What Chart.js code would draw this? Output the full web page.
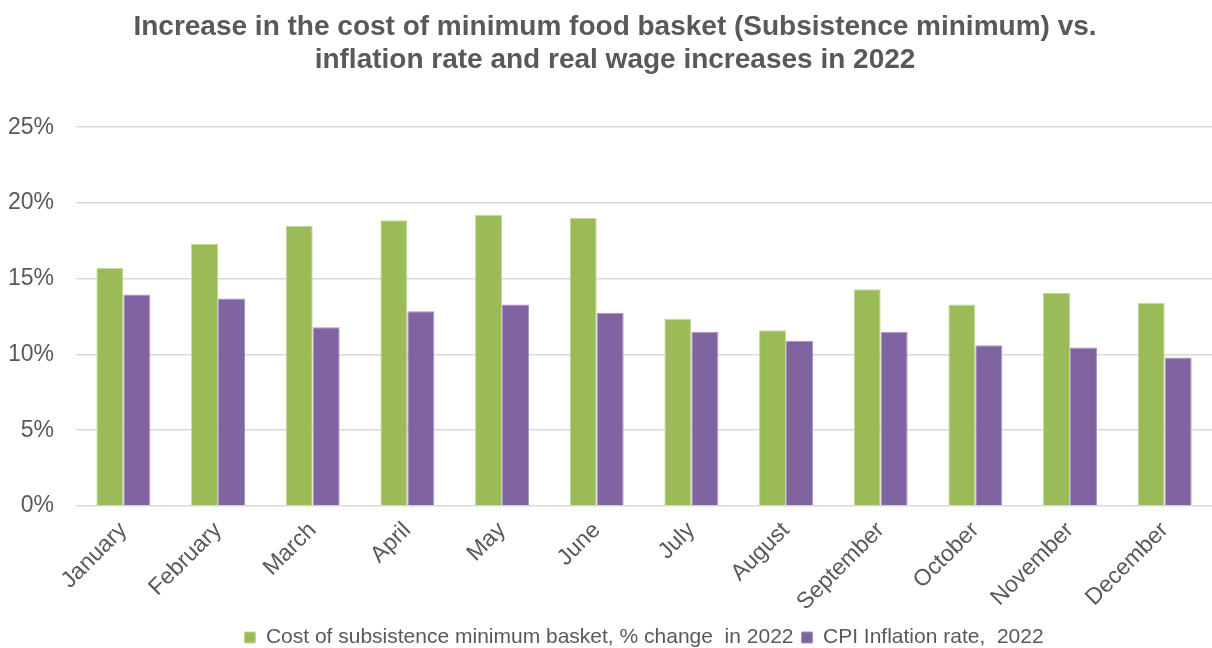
<!DOCTYPE html>
<html>
<head>
<meta charset="utf-8">
<script src="https://cdn.jsdelivr.net/npm/chart.js@4/dist/chart.umd.min.js"></script>
<style>
  html, body { margin: 0; padding: 0; background: #ffffff; }
  #wrap { width: 1212px; height: 648px; position: relative; }
</style>
</head>
<body>
<div id="wrap"><canvas id="chart"></canvas></div>
<script>
const months = ['January', 'February', 'March', 'April', 'May', 'June',
    'July', 'August', 'September', 'October', 'November', 'December'];
const basketChange = [15.7, 17.3, 18.5, 18.85, 19.2, 19.0, 12.35, 11.6, 14.3, 13.3, 14.05, 13.4];
const cpiInflation = [13.95, 13.7, 11.8, 12.85, 13.3, 12.75, 11.5, 10.9, 11.5, 10.6, 10.45, 9.8];
const yTicks = [0, 5, 10, 15, 20, 25];

const grey = '#595959';
const fontFamily = 'Arial, "Liberation Sans", sans-serif';

// legend sits centred under the plot area, title centred on the page
const recentre = {
    id: 'recentre',
    afterLayout(chart) {
        const area = chart.chartArea;
        if (chart.legend) {
            chart.legend.left = area.left;
            chart.legend.right = area.right;
        }
        if (chart.titleBlock) {
            chart.titleBlock.left = 18;
            chart.titleBlock.right = chart.width;
        }
    }
};

const ctx = document.getElementById('chart');
const chart = new Chart(ctx, {
    type: 'bar',
    data: {
        labels: months,
        datasets: [{
            label: 'Cost of subsistence minimum basket, % change  in 2022',
            data: basketChange,
            backgroundColor: '#9BBB59',
            borderColor: '#c4d99a',
            borderWidth: 1
        }, {
            label: 'CPI Inflation rate,  2022',
            data: cpiInflation,
            backgroundColor: '#8064A2',
            borderColor: '#a892c2',
            borderWidth: 1
        }]
    },
    plugins: [recentre],
    options: {
        responsive: true,
        maintainAspectRatio: false,
        animation: false,
        datasets: {
            bar: {
                barPercentage: 1,
                categoryPercentage: 0.57
            }
        },
        layout: {
            padding: { left: -14, right: 0, top: 0, bottom: -10 }
        },
        scales: {
            x: {
                grid: { display: false },
                border: { display: false },
                afterFit: scale => {
                    scale.paddingLeft = 0;
                    scale.paddingRight = 0;
                },
                ticks: {
                    color: grey,
                    font: { family: fontFamily, size: 23 },
                    maxRotation: 45,
                    minRotation: 45,
                    padding: 3
                }
            },
            y: {
                min: 0,
                max: 25,
                afterBuildTicks: axis => {
                    axis.ticks = yTicks.map(v => ({ value: v }));
                },
                grid: { color: '#d9d9d9', lineWidth: 1.5, drawTicks: false },
                border: { display: false },
                ticks: {
                    color: grey,
                    font: { family: fontFamily, size: 23 },
                    padding: 22,
                    callback: v => v + '%'
                }
            }
        },
        plugins: {
            title: {
                display: true,
                text: ['Increase in the cost of minimum food basket (Subsistence minimum) vs.',
                    'inflation rate and real wage increases in 2022'],
                color: grey,
                font: { family: fontFamily, size: 28, weight: 'bold' },
                lineHeight: 1.0,
                padding: { top: 10, bottom: 50 }
            },
            legend: {
                position: 'bottom',
                labels: {
                    color: grey,
                    font: { family: fontFamily, size: 21 },
                    boxWidth: 11,
                    boxHeight: 11,
                    padding: 8
                }
            },
            tooltip: { enabled: false }
        }
    }
});
</script>
</body>
</html>
